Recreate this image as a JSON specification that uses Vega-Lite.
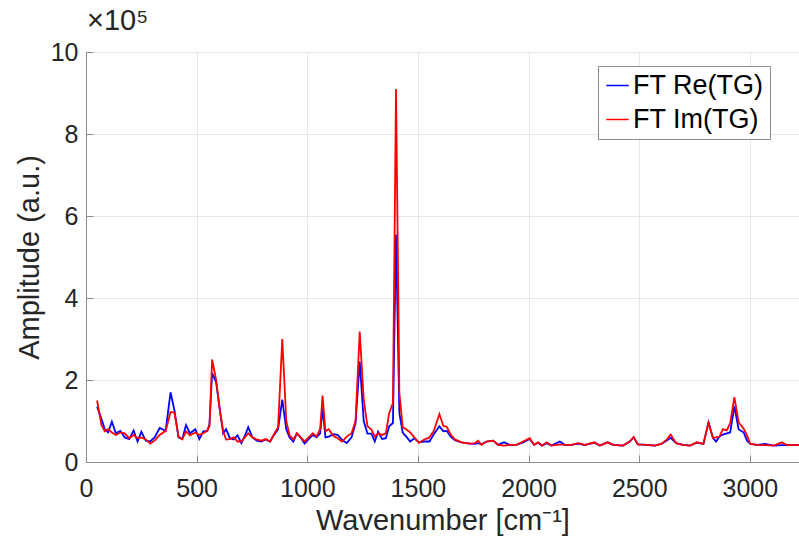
{
  "$schema": "https://vega.github.io/schema/vega-lite/v6.json",
  "width": 713,
  "height": 410,
  "autosize": {"type": "none"},
  "padding": {"left": 86, "top": 52, "right": 0, "bottom": 85},
  "background": "white",
  "title": {"text": "×10⁵", "anchor": "start", "frame": "group", "offset": 4, "fontSize": 29, "font": "Liberation Sans", "fontWeight": "normal", "color": "#262626", "dx": 1},
  "config": {
    "view": {"stroke": "#8c8c8c", "strokeWidth": 1},
    "font": "Liberation Sans",
    "axis": {
      "labelFont": "Liberation Sans", "titleFont": "Liberation Sans",
      "labelFontSize": 25, "titleFontSize": 28, "titleFontWeight": "normal",
      "labelColor": "#262626", "titleColor": "#262626",
      "domainColor": "#8c8c8c", "tickColor": "#8c8c8c",
      "gridColor": "#e6e6e6", "gridWidth": 1
    }
  },
  "data": {"values": [
    {"w":50,"FT Re(TG)":1.35,"FT Im(TG)":1.5},
    {"w":70,"FT Re(TG)":1.05,"FT Im(TG)":0.9},
    {"w":85,"FT Re(TG)":0.8,"FT Im(TG)":0.75},
    {"w":100,"FT Re(TG)":0.72,"FT Im(TG)":0.8},
    {"w":117,"FT Re(TG)":0.98,"FT Im(TG)":0.72},
    {"w":135,"FT Re(TG)":0.7,"FT Im(TG)":0.66},
    {"w":155,"FT Re(TG)":0.76,"FT Im(TG)":0.72},
    {"w":175,"FT Re(TG)":0.6,"FT Im(TG)":0.7},
    {"w":195,"FT Re(TG)":0.56,"FT Im(TG)":0.58},
    {"w":215,"FT Re(TG)":0.77,"FT Im(TG)":0.66},
    {"w":233,"FT Re(TG)":0.5,"FT Im(TG)":0.58},
    {"w":250,"FT Re(TG)":0.74,"FT Im(TG)":0.6},
    {"w":270,"FT Re(TG)":0.52,"FT Im(TG)":0.55},
    {"w":290,"FT Re(TG)":0.5,"FT Im(TG)":0.45},
    {"w":310,"FT Re(TG)":0.6,"FT Im(TG)":0.52},
    {"w":333,"FT Re(TG)":0.83,"FT Im(TG)":0.66},
    {"w":360,"FT Re(TG)":0.76,"FT Im(TG)":0.76},
    {"w":382,"FT Re(TG)":1.7,"FT Im(TG)":1.22},
    {"w":400,"FT Re(TG)":1.25,"FT Im(TG)":1.2},
    {"w":418,"FT Re(TG)":0.6,"FT Im(TG)":0.62},
    {"w":435,"FT Re(TG)":0.56,"FT Im(TG)":0.55},
    {"w":452,"FT Re(TG)":0.9,"FT Im(TG)":0.75},
    {"w":470,"FT Re(TG)":0.7,"FT Im(TG)":0.65},
    {"w":494,"FT Re(TG)":0.8,"FT Im(TG)":0.72},
    {"w":512,"FT Re(TG)":0.56,"FT Im(TG)":0.66},
    {"w":530,"FT Re(TG)":0.75,"FT Im(TG)":0.7},
    {"w":548,"FT Re(TG)":0.76,"FT Im(TG)":0.76},
    {"w":558,"FT Re(TG)":0.92,"FT Im(TG)":0.88},
    {"w":570,"FT Re(TG)":2.17,"FT Im(TG)":2.5},
    {"w":588,"FT Re(TG)":1.95,"FT Im(TG)":2.0},
    {"w":604,"FT Re(TG)":1.3,"FT Im(TG)":1.3},
    {"w":620,"FT Re(TG)":0.7,"FT Im(TG)":0.75},
    {"w":633,"FT Re(TG)":0.8,"FT Im(TG)":0.55},
    {"w":650,"FT Re(TG)":0.58,"FT Im(TG)":0.56},
    {"w":668,"FT Re(TG)":0.55,"FT Im(TG)":0.6},
    {"w":685,"FT Re(TG)":0.65,"FT Im(TG)":0.5},
    {"w":702,"FT Re(TG)":0.46,"FT Im(TG)":0.5},
    {"w":718,"FT Re(TG)":0.64,"FT Im(TG)":0.6},
    {"w":733,"FT Re(TG)":0.85,"FT Im(TG)":0.7},
    {"w":752,"FT Re(TG)":0.6,"FT Im(TG)":0.6},
    {"w":772,"FT Re(TG)":0.52,"FT Im(TG)":0.55},
    {"w":792,"FT Re(TG)":0.5,"FT Im(TG)":0.52},
    {"w":812,"FT Re(TG)":0.55,"FT Im(TG)":0.56},
    {"w":832,"FT Re(TG)":0.5,"FT Im(TG)":0.5},
    {"w":852,"FT Re(TG)":0.68,"FT Im(TG)":0.7},
    {"w":868,"FT Re(TG)":0.8,"FT Im(TG)":0.85},
    {"w":887,"FT Re(TG)":1.52,"FT Im(TG)":3.0},
    {"w":905,"FT Re(TG)":0.8,"FT Im(TG)":1.0},
    {"w":920,"FT Re(TG)":0.6,"FT Im(TG)":0.65},
    {"w":937,"FT Re(TG)":0.5,"FT Im(TG)":0.55},
    {"w":953,"FT Re(TG)":0.7,"FT Im(TG)":0.7},
    {"w":970,"FT Re(TG)":0.6,"FT Im(TG)":0.6},
    {"w":988,"FT Re(TG)":0.45,"FT Im(TG)":0.5},
    {"w":1006,"FT Re(TG)":0.56,"FT Im(TG)":0.6},
    {"w":1025,"FT Re(TG)":0.66,"FT Im(TG)":0.7},
    {"w":1042,"FT Re(TG)":0.6,"FT Im(TG)":0.62},
    {"w":1058,"FT Re(TG)":0.7,"FT Im(TG)":0.8},
    {"w":1069,"FT Re(TG)":1.3,"FT Im(TG)":1.62},
    {"w":1082,"FT Re(TG)":0.6,"FT Im(TG)":0.75},
    {"w":1097,"FT Re(TG)":0.62,"FT Im(TG)":0.8},
    {"w":1117,"FT Re(TG)":0.68,"FT Im(TG)":0.64},
    {"w":1137,"FT Re(TG)":0.66,"FT Im(TG)":0.58},
    {"w":1157,"FT Re(TG)":0.54,"FT Im(TG)":0.5},
    {"w":1178,"FT Re(TG)":0.46,"FT Im(TG)":0.62},
    {"w":1200,"FT Re(TG)":0.6,"FT Im(TG)":0.7},
    {"w":1218,"FT Re(TG)":0.95,"FT Im(TG)":1.0},
    {"w":1237,"FT Re(TG)":2.45,"FT Im(TG)":3.18},
    {"w":1255,"FT Re(TG)":1.0,"FT Im(TG)":1.52},
    {"w":1272,"FT Re(TG)":0.69,"FT Im(TG)":0.87},
    {"w":1290,"FT Re(TG)":0.69,"FT Im(TG)":0.79},
    {"w":1305,"FT Re(TG)":0.5,"FT Im(TG)":0.62},
    {"w":1320,"FT Re(TG)":0.74,"FT Im(TG)":0.7},
    {"w":1338,"FT Re(TG)":0.56,"FT Im(TG)":0.66},
    {"w":1355,"FT Re(TG)":0.58,"FT Im(TG)":0.7},
    {"w":1370,"FT Re(TG)":0.87,"FT Im(TG)":1.19},
    {"w":1387,"FT Re(TG)":0.95,"FT Im(TG)":1.44},
    {"w":1401,"FT Re(TG)":5.55,"FT Im(TG)":9.1},
    {"w":1416,"FT Re(TG)":1.2,"FT Im(TG)":1.7},
    {"w":1431,"FT Re(TG)":0.72,"FT Im(TG)":0.85},
    {"w":1447,"FT Re(TG)":0.62,"FT Im(TG)":0.8},
    {"w":1465,"FT Re(TG)":0.5,"FT Im(TG)":0.72},
    {"w":1484,"FT Re(TG)":0.58,"FT Im(TG)":0.6},
    {"w":1504,"FT Re(TG)":0.48,"FT Im(TG)":0.47},
    {"w":1529,"FT Re(TG)":0.5,"FT Im(TG)":0.55},
    {"w":1552,"FT Re(TG)":0.5,"FT Im(TG)":0.6},
    {"w":1572,"FT Re(TG)":0.68,"FT Im(TG)":0.76},
    {"w":1597,"FT Re(TG)":0.87,"FT Im(TG)":1.17},
    {"w":1615,"FT Re(TG)":0.75,"FT Im(TG)":0.88},
    {"w":1630,"FT Re(TG)":0.76,"FT Im(TG)":0.86},
    {"w":1648,"FT Re(TG)":0.62,"FT Im(TG)":0.67},
    {"w":1667,"FT Re(TG)":0.53,"FT Im(TG)":0.55},
    {"w":1697,"FT Re(TG)":0.48,"FT Im(TG)":0.48},
    {"w":1735,"FT Re(TG)":0.45,"FT Im(TG)":0.45},
    {"w":1757,"FT Re(TG)":0.44,"FT Im(TG)":0.46},
    {"w":1772,"FT Re(TG)":0.46,"FT Im(TG)":0.52},
    {"w":1787,"FT Re(TG)":0.43,"FT Im(TG)":0.42},
    {"w":1810,"FT Re(TG)":0.5,"FT Im(TG)":0.5},
    {"w":1840,"FT Re(TG)":0.52,"FT Im(TG)":0.52},
    {"w":1862,"FT Re(TG)":0.42,"FT Im(TG)":0.42},
    {"w":1889,"FT Re(TG)":0.48,"FT Im(TG)":0.4},
    {"w":1915,"FT Re(TG)":0.42,"FT Im(TG)":0.42},
    {"w":1945,"FT Re(TG)":0.42,"FT Im(TG)":0.42},
    {"w":1975,"FT Re(TG)":0.48,"FT Im(TG)":0.5},
    {"w":2005,"FT Re(TG)":0.56,"FT Im(TG)":0.58},
    {"w":2025,"FT Re(TG)":0.42,"FT Im(TG)":0.42},
    {"w":2043,"FT Re(TG)":0.47,"FT Im(TG)":0.48},
    {"w":2061,"FT Re(TG)":0.4,"FT Im(TG)":0.4},
    {"w":2081,"FT Re(TG)":0.46,"FT Im(TG)":0.48},
    {"w":2103,"FT Re(TG)":0.4,"FT Im(TG)":0.4},
    {"w":2141,"FT Re(TG)":0.5,"FT Im(TG)":0.43},
    {"w":2163,"FT Re(TG)":0.42,"FT Im(TG)":0.42},
    {"w":2194,"FT Re(TG)":0.42,"FT Im(TG)":0.42},
    {"w":2224,"FT Re(TG)":0.45,"FT Im(TG)":0.46},
    {"w":2254,"FT Re(TG)":0.41,"FT Im(TG)":0.42},
    {"w":2297,"FT Re(TG)":0.47,"FT Im(TG)":0.48},
    {"w":2322,"FT Re(TG)":0.4,"FT Im(TG)":0.4},
    {"w":2357,"FT Re(TG)":0.48,"FT Im(TG)":0.48},
    {"w":2382,"FT Re(TG)":0.42,"FT Im(TG)":0.42},
    {"w":2427,"FT Re(TG)":0.4,"FT Im(TG)":0.4},
    {"w":2457,"FT Re(TG)":0.5,"FT Im(TG)":0.5},
    {"w":2475,"FT Re(TG)":0.6,"FT Im(TG)":0.61},
    {"w":2494,"FT Re(TG)":0.43,"FT Im(TG)":0.43},
    {"w":2532,"FT Re(TG)":0.42,"FT Im(TG)":0.42},
    {"w":2570,"FT Re(TG)":0.4,"FT Im(TG)":0.4},
    {"w":2600,"FT Re(TG)":0.44,"FT Im(TG)":0.44},
    {"w":2623,"FT Re(TG)":0.52,"FT Im(TG)":0.54},
    {"w":2642,"FT Re(TG)":0.59,"FT Im(TG)":0.67},
    {"w":2667,"FT Re(TG)":0.46,"FT Im(TG)":0.46},
    {"w":2697,"FT Re(TG)":0.42,"FT Im(TG)":0.42},
    {"w":2730,"FT Re(TG)":0.4,"FT Im(TG)":0.4},
    {"w":2760,"FT Re(TG)":0.47,"FT Im(TG)":0.48},
    {"w":2790,"FT Re(TG)":0.44,"FT Im(TG)":0.44},
    {"w":2813,"FT Re(TG)":0.97,"FT Im(TG)":0.95},
    {"w":2833,"FT Re(TG)":0.59,"FT Im(TG)":0.59},
    {"w":2847,"FT Re(TG)":0.5,"FT Im(TG)":0.6},
    {"w":2863,"FT Re(TG)":0.62,"FT Im(TG)":0.62},
    {"w":2878,"FT Re(TG)":0.67,"FT Im(TG)":0.8},
    {"w":2896,"FT Re(TG)":0.7,"FT Im(TG)":0.77},
    {"w":2911,"FT Re(TG)":0.72,"FT Im(TG)":0.95},
    {"w":2930,"FT Re(TG)":1.36,"FT Im(TG)":1.58},
    {"w":2949,"FT Re(TG)":0.8,"FT Im(TG)":0.97},
    {"w":2972,"FT Re(TG)":0.72,"FT Im(TG)":0.81},
    {"w":2987,"FT Re(TG)":0.52,"FT Im(TG)":0.65},
    {"w":3002,"FT Re(TG)":0.44,"FT Im(TG)":0.44},
    {"w":3032,"FT Re(TG)":0.42,"FT Im(TG)":0.42},
    {"w":3069,"FT Re(TG)":0.44,"FT Im(TG)":0.41},
    {"w":3107,"FT Re(TG)":0.4,"FT Im(TG)":0.4},
    {"w":3145,"FT Re(TG)":0.41,"FT Im(TG)":0.48},
    {"w":3168,"FT Re(TG)":0.41,"FT Im(TG)":0.41},
    {"w":3224,"FT Re(TG)":0.42,"FT Im(TG)":0.42}
  ]},
  "transform": [{"fold": ["FT Re(TG)", "FT Im(TG)"], "as": ["series", "v"]}],
  "mark": {"type": "line", "strokeWidth": 1.8, "clip": true},
  "encoding": {
    "x": {
      "field": "w", "type": "quantitative",
      "scale": {"domain": [0, 3222], "nice": false, "zero": false},
      "axis": {"title": "Wavenumber [cm⁻¹]", "format": "d", "values": [0, 500, 1000, 1500, 2000, 2500, 3000],
        "tickSize": -7, "labelPadding": 21, "titlePadding": 5, "titleFontSize": 29, "labelFlush": false}
    },
    "y": {
      "field": "v", "type": "quantitative",
      "scale": {"domain": [0, 10], "nice": false},
      "axis": {"title": "Amplitude (a.u.)", "values": [0, 2, 4, 6, 8, 10],
        "tickSize": -7, "labelPadding": 15, "titlePadding": 6, "titleFontSize": 29, "labelFlush": false}
    },
    "color": {
      "field": "series", "type": "nominal",
      "scale": {"domain": ["FT Re(TG)", "FT Im(TG)"], "range": ["#0000ff", "#ff0000"]},
      "legend": {
        "title": null, "orient": "none", "legendX": 512, "legendY": 14,
        "symbolType": "stroke", "symbolSize": 500, "symbolStrokeWidth": 1.5,
        "labelFontSize": 27, "labelFont": "Liberation Sans", "labelColor": "#000000",
        "labelOffset": 2, "rowPadding": 6,
        "strokeColor": "#8c8c8c", "fillColor": "white", "padding": 6
      }
    },
    "order": {"field": "w", "type": "quantitative"}
  }
}
